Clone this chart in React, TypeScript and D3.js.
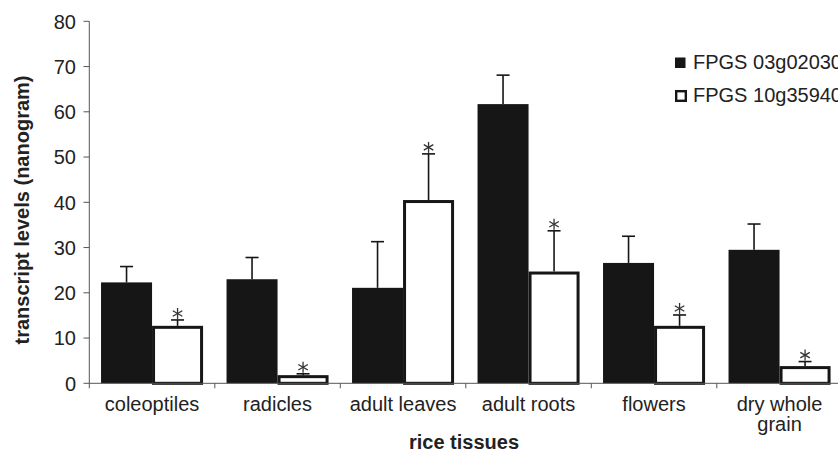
import React from "react";
import * as d3 from "d3";

const categories = ["coleoptiles", "radicles", "adult leaves", "adult roots", "flowers", "dry whole grain"];
const seriesNames = ["FPGS 03g02030", "FPGS 10g35940"];
const values03 = [22.3, 23.0, 21.1, 61.7, 26.6, 29.5];
const errors03 = [3.5, 4.8, 10.2, 6.4, 5.9, 5.7];
const values10 = [12.7, 1.8, 40.5, 24.7, 12.7, 3.8];
const errors10 = [1.3, 0.3, 10.2, 9.0, 2.4, 1.0];
const starred10 = [true, true, true, true, true, true];
const yTicks = [0, 10, 20, 30, 40, 50, 60, 70, 80];

const W = 838;
const H = 452;
const font = "'Liberation Sans', Arial, sans-serif";

// asterisk drawn as three crossing strokes
const Star = ({ cx, cy }: { cx: number; cy: number }) => {
  const r = 5.5;
  const angles = [90, 30, 150].map((a) => (a * Math.PI) / 180);
  return (
    <g stroke="#333" strokeWidth={1.3}>
      {angles.map((a, i) => (
        <line key={i} x1={cx - r * Math.cos(a)} y1={cy - r * Math.sin(a)} x2={cx + r * Math.cos(a)} y2={cy + r * Math.sin(a)} />
      ))}
    </g>
  );
};

export default function App() {
  const x = d3.scaleBand().domain(categories).range([89.3, 842.3]).padding(0);
  const inner = d3.scaleBand().domain(seriesNames).range([0, x.bandwidth()]).paddingInner(0).paddingOuter(0.23);
  const y = d3.scaleLinear().domain([0, 80]).range([383.3, 21.3]);

  const series = [
    { name: seriesNames[0], values: values03, errors: errors03, fill: "#161616" },
    { name: seriesNames[1], values: values10, errors: errors10, fill: "#ffffff" },
  ];

  const splitLabel = (c: string) => (c === "dry whole grain" ? ["dry whole", "grain"] : [c]);
  const fs = 20;

  return (
    <svg width={W} height={H} style={{ position: "absolute", left: 0, top: 0, background: "#fff" }} fontFamily={font}>
      {/* y axis */}
      <line x1={89.3} x2={89.3} y1={y(80)} y2={y(0)} stroke="#555" strokeWidth={1} />
      {yTicks.map((t) => (
        <g key={t}>
          <line x1={83.5} x2={89.3} y1={y(t)} y2={y(t)} stroke="#555" />
          <text x={76} y={y(t)} dy="0.36em" textAnchor="end" fontSize={fs} fill="#222">
            {t}
          </text>
        </g>
      ))}
      <text transform={`translate(29,210) rotate(-90)`} textAnchor="middle" fontSize={fs} fontWeight="bold" fill="#222">
        transcript levels (nanogram)
      </text>

      {/* bars */}
      {categories.map((c, i) => (
        <g key={c} transform={`translate(${x(c)},0)`}>
          {series.map((s, j) => {
            const bx = inner(s.name)!;
            const bw = inner.bandwidth();
            const v = s.values[i];
            const top = y(v + s.errors[i]);
            const white = j === 1;
            return (
              <g key={s.name}>
                <rect
                  x={bx + (white ? 1.5 : 0)}
                  y={y(v) + (white ? 1.5 : 0)}
                  width={bw - (white ? 3 : 0)}
                  height={y(0) - y(v) - (white ? 1.5 : 0)}
                  fill={s.fill}
                  stroke={white ? "#161616" : "none"}
                  strokeWidth={3}
                />
                <line x1={bx + bw / 2} x2={bx + bw / 2} y1={y(v)} y2={top} stroke="#161616" strokeWidth={1.6} />
                <line x1={bx + bw / 2 - 6.5} x2={bx + bw / 2 + 6.5} y1={top} y2={top} stroke="#161616" strokeWidth={1.6} />
                {white && starred10[i] && <Star cx={bx + bw / 2} cy={top - 6.5} />}
              </g>
            );
          })}
        </g>
      ))}

      {/* x axis */}
      <line x1={89.3} x2={W} y1={y(0)} y2={y(0)} stroke="#555" strokeWidth={1} />
      {categories.map((c) => (
        <line key={c} x1={x(c)!} x2={x(c)!} y1={y(0)} y2={y(0) + 5} stroke="#555" />
      ))}
      {categories.map((c) => (
        <text key={c} x={x(c)! + x.bandwidth() / 2} y={411} textAnchor="middle" fontSize={fs} fill="#222">
          {splitLabel(c).map((line, k) => (
            <tspan key={k} x={x(c)! + x.bandwidth() / 2} dy={k === 0 ? 0 : 20}>
              {line}
            </tspan>
          ))}
        </text>
      ))}
      <text x={464} y={449} textAnchor="middle" fontSize={fs} fontWeight="bold" fill="#222">
        rice tissues
      </text>

      {/* legend */}
      <rect x={675} y={57.5} width={10.5} height={10.5} fill="#161616" />
      <text x={693} y={68.5} fontSize={fs} fill="#222">
        {seriesNames[0]}
      </text>
      <rect x={676.2} y={91.2} width={9.6} height={9.6} fill="#fff" stroke="#161616" strokeWidth={2.4} />
      <text x={693} y={102} fontSize={fs} fill="#222">
        {seriesNames[1]}
      </text>
    </svg>
  );
}
